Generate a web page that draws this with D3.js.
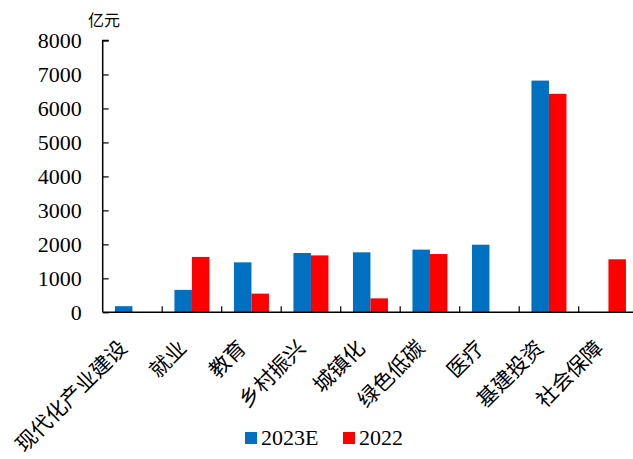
<!DOCTYPE html>
<html>
<head>
<meta charset="utf-8">
<script src="https://cdn.jsdelivr.net/npm/d3@7"></script>
<style>
  html, body { margin: 0; padding: 0; background: #fff; }
  svg { display: block; }
  .num { font-family: "Liberation Serif", "Times New Roman", serif; }
  .cjk { font-family: "Noto Sans CJK SC", sans-serif; }
</style>
</head>
<body>
<svg id="chart" width="633" height="459"></svg>
<script>
// Spending by area, 亿元
const categories = ["现代化产业建设", "就业", "教育", "乡村振兴", "城镇化", "绿色低碳", "医疗", "基建投资", "社会保障"];
const seriesNames = ["2023E", "2022"];
const values2023E = [180, 660, 1470, 1745, 1765, 1845, 1990, 6820, 0];
const values2022 = [0, 1630, 550, 1675, 410, 1715, 0, 6430, 1560];
const yTicks = [0, 1000, 2000, 3000, 4000, 5000, 6000, 7000, 8000];
const colors = ["#0070C0", "#FF0000"];

const svg = d3.select("#chart");

const plotLeft = 102.7, plotTop = 40.5, plotBottom = 312.3;
const step = 59.5;

const y = d3.scaleLinear().domain([0, 8000]).range([plotBottom, plotTop]);
const x0 = d3.scaleBand().domain(categories).range([plotLeft, plotLeft + step * categories.length]).padding(0);
const x1 = d3.scaleBand().domain(seriesNames).range([0, x0.bandwidth()]).paddingInner(0).paddingOuter(0.7);

const rows = categories.map((c, i) => ({ cat: c, vals: [values2023E[i], values2022[i]] }));

// bars
const groups = svg.append("g").selectAll("g").data(rows).join("g")
  .attr("transform", d => `translate(${x0(d.cat)},0)`);
groups.selectAll("rect")
  .data(d => d.vals.map((v, k) => ({ name: seriesNames[k], v, k })).filter(e => e.v > 0))
  .join("rect")
  .attr("x", e => x1(e.name))
  .attr("y", e => y(e.v))
  .attr("width", x1.bandwidth())
  .attr("height", e => y(0) - y(e.v))
  .attr("fill", e => colors[e.k]);

// y axis (ticks point inward)
const yAxis = svg.append("g").attr("transform", `translate(${plotLeft},0)`)
  .call(d3.axisRight(y).tickValues(yTicks).tickSize(6).tickFormat(""));
yAxis.select(".domain").attr("d", `M6,${plotTop}H0V${plotBottom}`).attr("stroke", "#000").attr("stroke-width", 1.5);
yAxis.selectAll(".tick line").attr("stroke", "#000").attr("stroke-width", 1.2);

svg.append("g").selectAll("text").data(yTicks).join("text")
  .attr("class", "num")
  .attr("x", plotLeft - 21)
  .attr("y", d => y(d))
  .attr("dy", "0.35em")
  .attr("text-anchor", "end")
  .attr("font-size", 22)
  .attr("fill", "#000")
  .text(d => d);

// x axis with boundary ticks between categories
const xAxis = svg.append("g").attr("transform", `translate(0,${plotBottom})`);
xAxis.append("line").attr("x1", plotLeft).attr("x2", 633).attr("y1", 0).attr("y2", 0)
  .attr("stroke", "#000").attr("stroke-width", 1.5);
xAxis.selectAll("line.tk").data(categories.slice(1)).join("line").attr("class", "tk")
  .attr("x1", d => x0(d)).attr("x2", d => x0(d))
  .attr("y1", 0).attr("y2", -6)
  .attr("stroke", "#000").attr("stroke-width", 1.2);

// category labels, rotated
svg.append("g").selectAll("text").data(categories).join("text")
  .attr("class", "cjk")
  .attr("transform", d => `translate(${x0(d) + x0.bandwidth() / 2 - 4},${plotBottom + 37}) rotate(-45)`)
  .attr("text-anchor", "end")
  .attr("font-size", 21)
  .attr("fill", "#000")
  .text(d => d);

// unit label
svg.append("text").attr("class", "cjk").attr("x", 88).attr("y", 26)
  .attr("font-size", 16).attr("fill", "#000")
  .text("亿元");

// legend
const legend = svg.append("g");
const legendItems = [
  { name: seriesNames[0], color: colors[0], x: 245 },
  { name: seriesNames[1], color: colors[1], x: 343 }
];
legend.selectAll("rect").data(legendItems).join("rect")
  .attr("x", d => d.x).attr("y", 432).attr("width", 12).attr("height", 12)
  .attr("fill", d => d.color);
legend.selectAll("text").data(legendItems).join("text")
  .attr("class", "num")
  .attr("x", d => d.x + 16).attr("y", 444.5)
  .attr("font-size", 22).attr("fill", "#000")
  .text(d => d.name);
</script>
</body>
</html>
